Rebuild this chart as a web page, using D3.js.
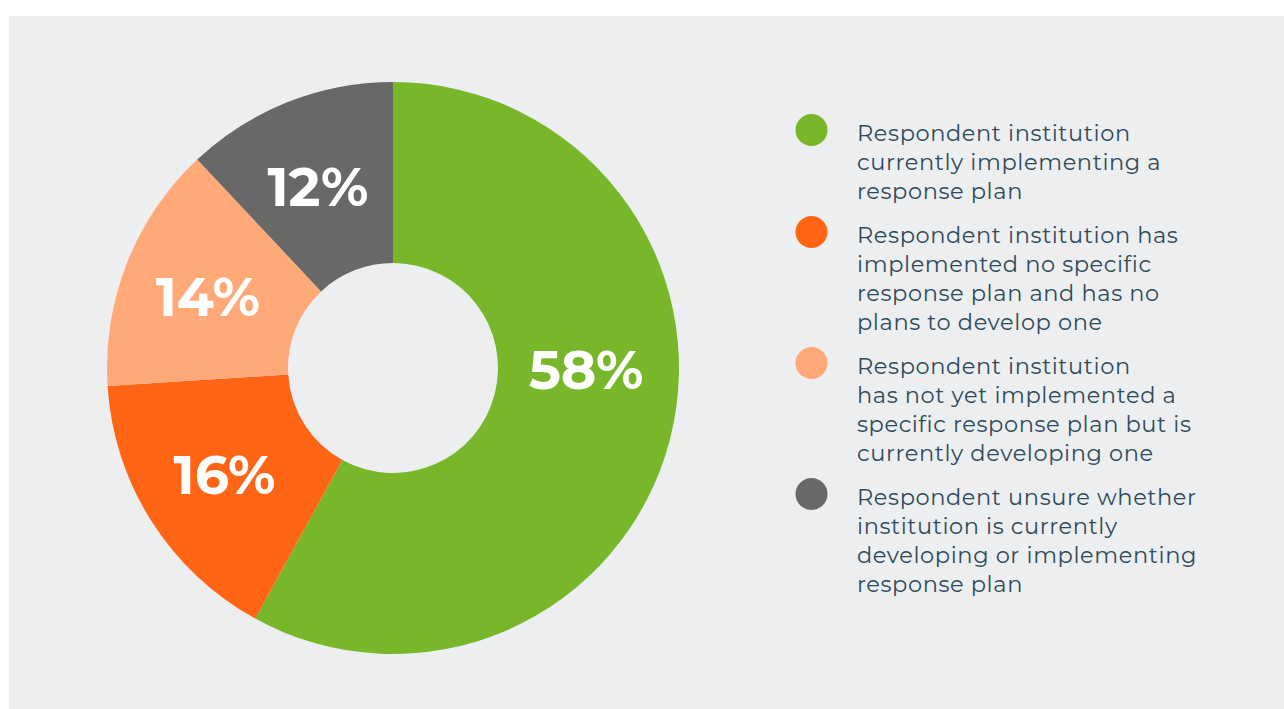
<!DOCTYPE html>
<html>
<head>
<meta charset="utf-8">
<script src="https://cdn.jsdelivr.net/npm/d3@7"></script>
<style>
  html, body { margin: 0; padding: 0; background: #ffffff; }
  svg { display: block; }
</style>
</head>
<body>
<svg id="chart" width="1284" height="709"></svg>
<script>
// ---- Data ----
const categories = [
  "Respondent institution currently implementing a response plan",
  "Respondent institution has implemented no specific response plan and has no plans to develop one",
  "Respondent institution has not yet implemented a specific response plan but is currently developing one",
  "Respondent unsure whether institution is currently developing or implementing response plan"
];
const values = [58, 16, 14, 12];
const valueLabels = ["58%", "16%", "14%", "12%"];
const colors = ["#78b72a", "#ff6514", "#ffa878", "#686866"];
const legendLines = [
  ["Respondent institution", "currently implementing a", "response plan"],
  ["Respondent institution has", "implemented no specific", "response plan and has no", "plans to develop one"],
  ["Respondent institution", "has not yet implemented a", "specific response plan but is", "currently developing one"],
  ["Respondent unsure whether", "institution is currently", "developing or implementing", "response plan"]
];

// ---- Layout ----
const W = 1284, H = 709;
const svg = d3.select("#chart");

svg.append("rect")
  .attr("x", 9).attr("y", 16)
  .attr("width", W - 9).attr("height", H - 16)
  .attr("fill", "#edeef0");

const cx = 393, cy = 368;
const outerR = 286, innerR = 105, labelR = 196;

const pie = d3.pie().value(d => d).sort(null);
const arcs = pie(values);
const arc = d3.arc().innerRadius(innerR).outerRadius(outerR);

const g = svg.append("g").attr("transform", `translate(${cx},${cy})`);

g.selectAll("path.slice")
  .data(arcs)
  .join("path")
  .attr("class", "slice")
  .attr("d", arc)
  .attr("fill", (d, i) => colors[i]);

const labelFont = 54;
g.selectAll("text.pct")
  .data(arcs)
  .join("text")
  .attr("class", "pct")
  .attr("transform", d => {
    let a = (d.startAngle + d.endAngle) / 2;
    if (d.endAngle - d.startAngle > Math.PI) a = Math.PI / 2; // large slice: centre label horizontally
    const x = labelR * Math.sin(a);
    const y = -labelR * Math.cos(a);
    return `translate(${x},${y})`;
  })
  .attr("x", -3)
  .attr("y", labelFont * 0.38)
  .attr("text-anchor", "middle")
  .attr("fill", "#ffffff")
  .attr("font-family", "Montserrat, 'Open Sans', sans-serif")
  .attr("font-weight", 700)
  .attr("font-size", labelFont)
  .text((d, i) => valueLabels[i]);

// ---- Legend ----
const legendX = 857, dotX = 811.5, dotR = 16;
const lineH = 29, itemGap = 15;
let baseline = 141;
const legend = svg.append("g");
categories.forEach((c, i) => {
  const item = legend.append("g");
  item.append("circle")
    .attr("cx", dotX).attr("cy", baseline - 11)
    .attr("r", dotR)
    .attr("fill", colors[i]);
  const t = item.append("text")
    .attr("x", legendX).attr("y", baseline)
    .attr("fill", "#2f4b5b")
    .attr("font-family", "Montserrat, 'Open Sans', sans-serif")
    .attr("font-size", 22.5)
    .attr("letter-spacing", 0.6)
    .attr("font-weight", 400);
  legendLines[i].forEach((ln, j) => {
    t.append("tspan").attr("x", legendX).attr("y", baseline + j * lineH).text(ln);
  });
  baseline += legendLines[i].length * lineH + itemGap;
});
</script>
</body>
</html>
